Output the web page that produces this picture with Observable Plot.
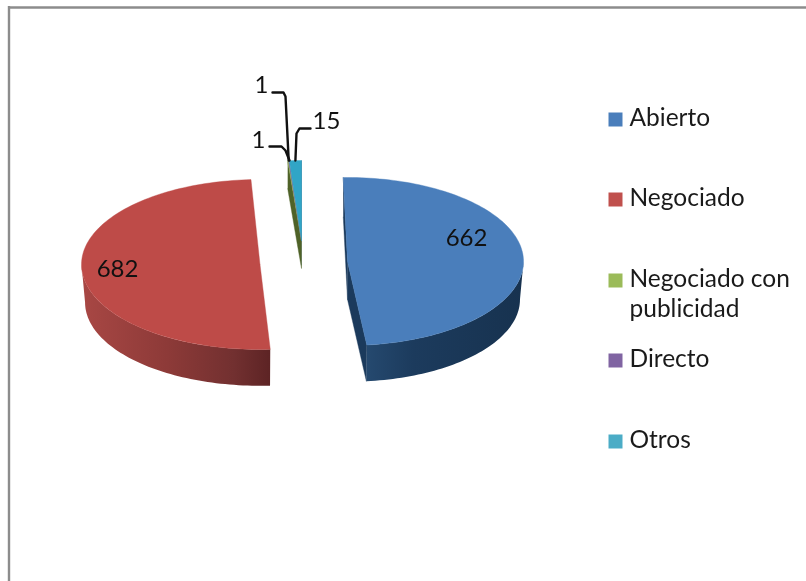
<!DOCTYPE html>
<html><head><meta charset="utf-8">
<style>html,body{margin:0;padding:0;background:#fff}svg{display:block;filter:blur(.45px)}</style>
<script src="https://cdn.jsdelivr.net/npm/d3@7"></script>
<script src="https://cdn.jsdelivr.net/npm/@observablehq/plot@0.6"></script>
</head><body><div id="chart"></div>
<script>
const categories = ["Abierto","Negociado","Negociado con publicidad","Directo","Otros"];
const values = [662,682,1,1,15];
const legendLabels = [["Abierto"],["Negociado"],["Negociado con","publicidad"],["Directo"],["Otros"]];

const colors = ["#4a7ebb","#be4b48","#98b954","#7d60a0","#31a5c6"];
const wallColors = ["#1b3a5c",null,"#4f6228",null,"#1f4f7a"];
const legendColors = ["#4a7ebb","#c0504d","#9bbb59","#8064a2","#4bacc6"];
const font = "Lato, 'Noto Sans', sans-serif";

// exploded slice layout (one pie, each slice pulled away from the centre)
const layout = [
  {cx:347,cy:261,rx:176,ry:84,rot:-1.4,depth:38,shrink:.98},
  {cx:259.5,cy:264,rx:178.5,ry:85,rot:1.6,depth:38,shrink:.98},
  {cx:301,cy:240,rx:176,ry:80,rot:0,depth:28,shrink:1},
  {cx:301,cy:240,rx:176,ry:80,rot:0,depth:28,shrink:1},
  {cx:301,cy:240,rx:176,ry:80,rot:0,depth:24,shrink:1}
];
const total = d3.sum(values);
let acc = 0;
const slices = values.map((v,i)=>{
  const a0 = acc/total*360 + layout[i].rot; acc += v;
  const a1 = acc/total*360 + layout[i].rot;
  return {i, name:categories[i], v, a0, a1, ...layout[i]};
});
const rad = d=>d*Math.PI/180;
const onArc = (s,a,low=false)=>{
  const k = low ? s.shrink : 1;
  return [s.cx + s.rx*k*Math.sin(rad(a)), s.cy - s.ry*k*Math.cos(rad(a)) + (low?s.depth:0)];
};
const arcPts = (s,a0,a1,low=false)=>{
  const n = Math.max(2,Math.ceil(Math.abs(a1-a0)/1.5));
  return d3.range(n+1).map(j=>onArc(s,a0+(a1-a0)*j/n,low));
};
const poly = (id,pts)=>pts.map(([x,y])=>({id,x,y}));
const topFace = s=>poly("t"+s.i,[[s.cx,s.cy],...arcPts(s,s.a0,s.a1),[s.cx,s.cy]]);
const rim = (s,a0,a1)=>poly("r"+s.i,[...arcPts(s,a0,a1),...arcPts(s,a1,a0,true)]);
const wall = s=>poly("w"+s.i,[onArc(s,s.a0),[s.cx,s.cy],[s.cx,s.cy+s.depth],onArc(s,s.a0,true)]);
const wallEnd = s=>poly("e"+s.i,[[s.cx,s.cy],onArc(s,s.a1),onArc(s,s.a1,true),[s.cx,s.cy+s.depth]]);

const shape = (pts,fill,extra={})=>Plot.line(pts,{x:"x",y:"y",z:"id",fill,stroke:fill,strokeWidth:.4,curve:"linear",...extra});

const defs = ()=>{
  const d = d3.create("svg:defs");
  const grad = (id,x1,x2,stops)=>{
    const g = d.append("linearGradient").attr("id",id).attr("gradientUnits","userSpaceOnUse")
      .attr("x1",x1).attr("x2",x2).attr("y1",0).attr("y2",0);
    stops.forEach(([o,c])=>g.append("stop").attr("offset",o).attr("stop-color",c));
  };
  grad("rimRed",82,271,[[0,"#a84744"],[.45,"#8d3a38"],[.8,"#723030"],[1,"#5c2324"]]);
  grad("rimBlue",366,522,[[0,"#25496f"],[.3,"#1c3b5d"],[1,"#17324f"]]);
  return d.node();
};

const leaders = [
  ...poly("l1",[[onArc(slices[2],slices[2].a0)[0]+1,160],[285,96],[283,92],[272,92]]),
  ...poly("l2",[[onArc(slices[3],slices[3].a0)[0]+1,160],[285,150],[281,146],[269,146]]),
  ...poly("l3",[[onArc(slices[4],(slices[4].a0+slices[4].a1)/2)[0],160],[296,133],[299,128],[310,128]])
];

const labels = [
  {t:"662",x:466,y:238},{t:"682",x:117,y:269},
  {t:"1",x:261,y:85},{t:"1",x:258,y:140},{t:"15",x:326,y:121}
];
const legendY = [119,199,280,360,441];
const legendRows = legendLabels.flatMap((ls,i)=>ls.map((t,j)=>({t,y:legendY[i]+j*30-1})));

const plot = Plot.plot({
  width:806,height:581,margin:0,
  x:{domain:[0,806],range:[0,806],axis:null},
  y:{domain:[0,581],range:[0,581],axis:null},
  marks:[
    defs,
    Plot.ruleX([8.5],{stroke:"#8c8c8c",strokeWidth:2.4,y1:6,y2:581}),
    Plot.ruleY([7],{stroke:"#8c8c8c",strokeWidth:2.4,x1:8,x2:806}),
    // small slices at the back
    shape(wallEnd(slices[4]),wallColors[4]),
    shape(wall(slices[2]),wallColors[2]),
    shape(topFace(slices[2]),colors[2]),
    shape(topFace(slices[3]),colors[3]),
    shape(topFace(slices[4]),colors[4]),
    // red
    shape(rim(slices[1],slices[1].a0,270),"url(#rimRed)",{stroke:"none"}),
    shape(topFace(slices[1]),colors[1]),
    // blue
    shape(wall(slices[0]),wallColors[0]),
    shape(wallEnd(slices[0]),wallColors[0]),
    shape(rim(slices[0],90,slices[0].a1),"url(#rimBlue)",{stroke:"none"}),
    shape(topFace(slices[0]),colors[0]),
    Plot.line(leaders,{x:"x",y:"y",z:"id",stroke:"#111",strokeWidth:2.4,curve:"linear"}),
    Plot.text(labels,{x:"x",y:"y",text:"t",fontSize:24,fontFamily:font,fill:"#111"}),
    Plot.dot(legendColors.map((c,i)=>({c,y:legendY[i]})),{x:()=>615,y:"y",fill:"c",symbol:"square",r:7.9}),
    Plot.text(legendRows,{x:()=>629,y:"y",text:"t",textAnchor:"start",fontSize:24.5,fontFamily:font,fill:"#1a1a1a"})
  ]
});
document.getElementById("chart").append(plot);
</script></body></html>
